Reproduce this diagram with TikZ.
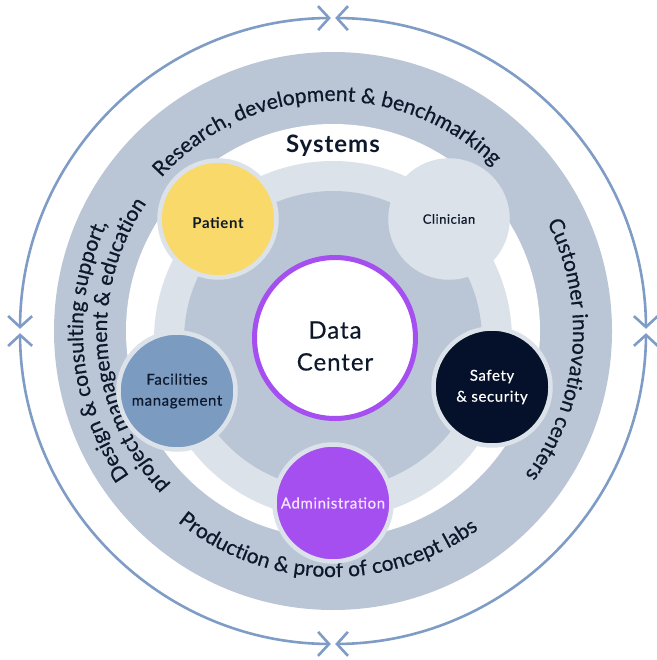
\documentclass[tikz,border=0pt]{standalone}
\usepackage{fontspec}
\setmainfont{Lato}
\newfontfamily\ringfont[FakeBold=0.6]{Lato}
\newfontfamily\unitfont[LetterSpace=4, FakeBold=0.5]{Lato}
\newfontfamily\boldunitfont[LetterSpace=4]{Lato}
\usetikzlibrary{arrows.meta, decorations.text}
\definecolor{ringgray}{HTML}{BAC6D6}
\definecolor{halogray}{HTML}{DCE2EA}
\definecolor{loopblue}{HTML}{7E9CC5}
\definecolor{patyellow}{HTML}{FAD96B}
\definecolor{safenavy}{HTML}{05112A}
\definecolor{admpurple}{HTML}{A64FF1}
\definecolor{admtext}{HTML}{F1E6FF}
\definecolor{facblue}{HTML}{7B9BC1}
\definecolor{inkdark}{HTML}{0D182B}

\begin{document}
\begin{tikzpicture}[
    x=1pt, y=-1pt,
    >={Straight Barb[length=11pt, width=24pt]},
    cyclearc/.style={<->, draw=loopblue, line width=2.6pt},
    unit/.style={circle, draw=halogray, line width=4.5pt, minimum size=117pt, inner sep=0pt,
                 font=\unitfont\fontsize{15}{21}\selectfont, align=center},
    ringlabel/.style={decorate, decoration={text along path, text align=center,
                 text={|\ringfont\fontsize{21}{22}\selectfont\color{inkdark}|#1}}},
]
\useasboundingbox (0,0) rectangle (656,660);

% Outer cycle: four quarter arcs
\draw[cyclearc] (333,331) ++(180.4:313) arc[start angle=180.4, end angle=269.6, radius=313];
\draw[cyclearc] (333,331) ++(270.4:313) arc[start angle=270.4, end angle=359.6, radius=313];
\draw[cyclearc] (333,331) ++(0.4:313) arc[start angle=0.4, end angle=89.6, radius=313];
\draw[cyclearc] (333,331) ++(90.4:313) arc[start angle=90.4, end angle=179.6, radius=313];

% Services ring
\fill[ringgray] (333,331) circle[radius=279];
\fill[white] (333,331) circle[radius=207];

% Systems ring
\fill[halogray] (333,340) circle[radius=179];
\fill[ringgray] (333,340) circle[radius=149];

% Ring labels
\path[ringlabel={Research, development {\&} benchmarking}] (333,331) ++(197:230) arc[start angle=197, end angle=339, radius=230];
\path[ringlabel={Customer innovation centers}] (333,331) ++(-60:240) arc[start angle=-60, end angle=70, radius=240];
\path[ringlabel={Production {\&} proof of concept labs}] (333,331) ++(156.4:246) arc[start angle=156.4, end angle=26.4, radius=246];
\path[ringlabel={Design {\&} consulting support,}] (333,331) ++(110:250) arc[start angle=110, end angle=240, radius=250];
\path[ringlabel={project management {\&} education}] (333,331) ++(110.5:226) arc[start angle=110.5, end angle=240.5, radius=226];

\node[font=\boldunitfont\fontsize{24}{26}\selectfont\bfseries, text=inkdark] (systems) at (333,146) {Systems};

% Data center
\node[circle, draw=admpurple, line width=5pt, fill=white, minimum size=161pt, inner sep=0pt] (dc) at (335,338) {};
\node[align=center, font=\unitfont\fontsize{24}{32}\selectfont, text=inkdark] (dctext) at (335,346) {Data\\Center};

% Systems
\node[unit, fill=patyellow, text=inkdark, font=\boldunitfont\fontsize{15}{21}\selectfont\bfseries,
      text height=19pt, text depth=0pt] (patient) at (218,219) {Patient};
\node[unit, draw=halogray, fill=halogray, text=inkdark, font=\unitfont\fontsize{13}{21}\selectfont] (clinician) at (449,219) {Clinician};
\node[unit, fill=safenavy, text=white] (safety) at (492,387) {Safety\\\& security};
\node[unit, fill=admpurple, text=admtext] (admin) at (333,503) {Administration};
\node[unit, fill=facblue, text=inkdark] (facilities) at (177,391) {Facilities\\management};

\end{tikzpicture}
\end{document}
